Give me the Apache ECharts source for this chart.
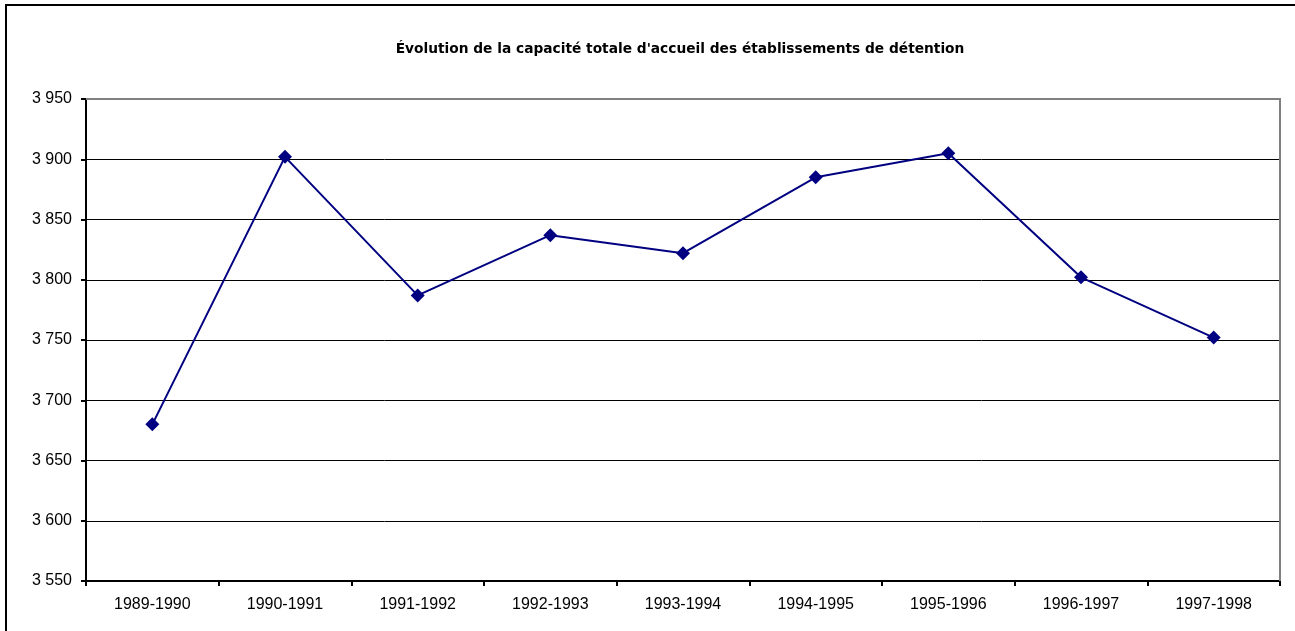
<!DOCTYPE html>
<html><head><meta charset="utf-8">
<script src="https://cdn.jsdelivr.net/npm/echarts@6/dist/echarts.min.js"></script>
<style>html,body{margin:0;padding:0;background:#fff}#c{width:1295px;height:631px}</style>
</head><body><div id="c"></div>
<script>
const categories = ['1989-1990','1990-1991','1991-1992','1992-1993','1993-1994','1994-1995','1995-1996','1996-1997','1997-1998'];
const capacity = [3680, 3902, 3787, 3837, 3822, 3885, 3905, 3802, 3752];
const titleText = "Évolution de la capacité totale d'accueil des établissements de détention";
const yMin = 3550, yMax = 3950, yStep = 50;

const chart = echarts.init(document.getElementById('c'), null, {renderer:'canvas'});
const font = '"Liberation Sans", Arial, sans-serif';
chart.setOption({
  animation: false,
  backgroundColor: '#fff',
  title: {
    text: titleText, left: 675, top: 37, textAlign: 'center',
    textStyle: {fontFamily: '"DejaVu Sans", sans-serif', fontSize: 13.75, fontWeight: 'bold', color: '#000'}
  },
  graphic: [
    {type:'rect', shape:{x:6, y:5, width:1400, height:700}, style:{fill:'none', stroke:'#000', lineWidth:2}, z:-1},
    {type:'polyline', shape:{points:[[86,99],[1280,99],[1280,581]]}, style:{fill:'none', stroke:'#808080', lineWidth:2}, z:5}
  ],
  grid: {left: 86, right: 15, top: 99, bottom: 50, containLabel: false},
  xAxis: {
    type: 'category', data: categories, boundaryGap: true,
    axisLine: {lineStyle: {color: '#000', width: 2}},
    axisTick: {show: true, alignWithLabel: false, length: 5, lineStyle: {color:'#000', width: 2}},
    axisLabel: {fontFamily: font, fontSize: 16, color: '#000', margin: 16, interval: 0},
    splitLine: {show: false}
  },
  yAxis: {
    type: 'value', min: yMin, max: yMax, interval: yStep,
    axisLine: {show: true, lineStyle: {color: '#000', width: 2}},
    axisTick: {show: true, length: 5, lineStyle: {color:'#000', width: 2}},
    axisLabel: {fontFamily: font, fontSize: 16, color: '#000', margin: 14,
      formatter: v => String(v).replace(/\B(?=(\d{3})+(?!\d))/g, ' ')},
    splitLine: {show: true, lineStyle: {color: '#000', width: 1}}
  },
  series: [{
    type: 'line', data: capacity,
    symbol: 'diamond', symbolSize: 14,
    lineStyle: {color: '#000080', width: 2},
    itemStyle: {color: '#000080'},
    z: 10
  }]
});
</script></body></html>
